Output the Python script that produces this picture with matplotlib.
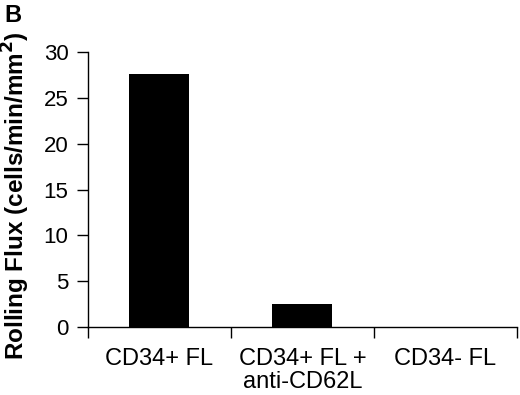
import matplotlib
matplotlib.use("Agg")
import matplotlib.pyplot as plt
from matplotlib.ticker import FixedLocator

# data
groups = ["CD34+ FL", "CD34+ FL +\nanti-CD62L", "CD34- FL"]
flux = [27.6, 2.5, 0.0]
y_ticks = [0, 5, 10, 15, 20, 25, 30]

plt.rcParams['font.family'] = ['Liberation Sans', 'DejaVu Sans']

fig = plt.figure(figsize=(5.2, 3.95), dpi=100)
ax = fig.add_axes([0.169, 0.172, 0.825, 0.696])

x = list(range(len(groups)))
ax.bar(x, flux, width=0.42, color="black")

ax.set_xlim(-0.5, len(groups) - 0.5)
ax.set_ylim(0, 30)
ax.set_yticks(y_ticks)
ax.tick_params(axis="y", labelsize=16, length=8, width=1, direction="out", pad=6)

# labels centred under bars, ticks at group boundaries
ax.set_xticks(x)
ax.set_xticklabels(groups, fontsize=17, linespacing=1.05)
ax.tick_params(axis="x", which="major", length=0, pad=15)
ax.xaxis.set_minor_locator(FixedLocator([i - 0.5 for i in range(len(groups) + 1)]))
ax.tick_params(axis="x", which="minor", length=8, width=1, direction="out")

for s in ["top", "right"]:
    ax.spines[s].set_visible(False)
for s in ["left", "bottom"]:
    ax.spines[s].set_linewidth(1)

ax.set_ylabel("Rolling Flux (cells/min/mm$^\\mathbf{2}$)", fontsize=17.5, fontweight="bold")
ax.yaxis.set_label_coords(-0.13, 0.48)
fig.text(0.008, 0.99, "B", fontsize=17, fontweight="bold", va="top", ha="left")

fig.savefig("out.png", dpi=100)
